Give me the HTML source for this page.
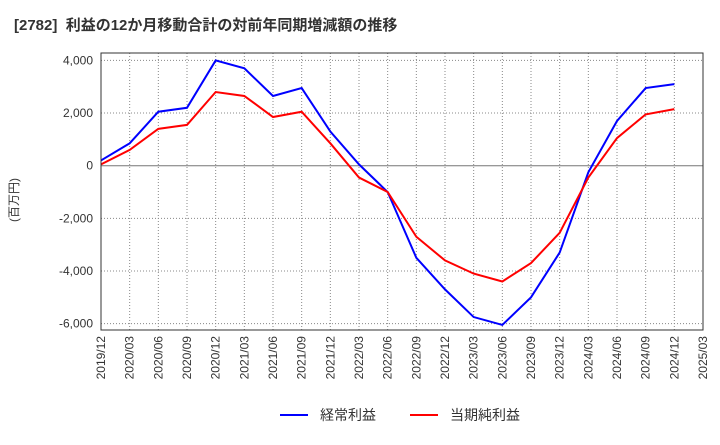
<!DOCTYPE html>
<html><head><meta charset="utf-8"><style>
body{margin:0;background:#fff;font-family:"Liberation Sans","Noto Sans CJK JP",sans-serif;}
svg text{font-family:"Liberation Sans","Noto Sans CJK JP",sans-serif;}
</style></head><body>
<svg id="c" width="720" height="440">
<text x="14" y="30" font-size="15" font-weight="bold" fill="#333" xml:space="preserve">[2782]  利益の12か月移動合計の対前年同期増減額の推移</text>
<text transform="translate(18,200) rotate(-90)" font-size="12" fill="#333" text-anchor="middle">(百万円)</text>
<g id="grid"></g><g id="series"></g><g id="axes"></g>
<g>
<line x1="280" y1="415" x2="308" y2="415" stroke="#0000ff" stroke-width="2"/>
<text x="320" y="420" font-size="14" fill="#333">経常利益</text>
<line x1="410" y1="415" x2="438" y2="415" stroke="#ff0000" stroke-width="2"/>
<text x="450" y="420" font-size="14" fill="#333">当期純利益</text>
</g>
</svg>
<script>
const categories=["2019/12","2020/03","2020/06","2020/09","2020/12","2021/03","2021/06","2021/09","2021/12","2022/03","2022/06","2022/09","2022/12","2023/03","2023/06","2023/09","2023/12","2024/03","2024/06","2024/09","2024/12","2025/03"];
const keijo=[200,850,2050,2200,4000,3700,2650,2950,1300,50,-1000,-3500,-4700,-5750,-6050,-5000,-3300,-250,1700,2950,3100];
const junri=[50,600,1400,1550,2800,2650,1850,2050,850,-450,-1000,-2700,-3600,-4100,-4400,-3700,-2550,-450,1050,1950,2150];
const yTicks=[4000,2000,0,-2000,-4000,-6000];
const yTickLabels=["4,000","2,000","0","-2,000","-4,000","-6,000"];
const L=101,R=703,T=53,B=330;
const y=v=>165.7-v*0.02632;
const x=i=>L+(R-L)*i/(categories.length-1);
const NS="http://www.w3.org/2000/svg";
function mk(p,t,a){const e=document.createElementNS(NS,t);for(const k in a)e.setAttribute(k,a[k]);document.getElementById(p).appendChild(e);return e;}
categories.forEach((c,i)=>{
 const g=mk("grid","line",{x1:x(i),x2:x(i),y1:T,y2:B,stroke:"#888","stroke-dasharray":"1,2"});
 
 
 const t=mk("axes","text",{transform:`translate(${x(i)+4},${B+6}) rotate(-90)`,"font-size":"12",fill:"#333","text-anchor":"end"});
 t.textContent=c;
 
 
});
yTicks.forEach((v,i)=>{
 const g=mk("grid","line",{x1:L,x2:R,y1:y(v),y2:y(v),stroke:v===0?"#777":"#888","stroke-dasharray":v===0?"":"1,2"});
 
 
 const t=mk("axes","text",{x:L-8,y:y(v)+4,"font-size":"12",fill:"#333","text-anchor":"end"});
 t.textContent=yTickLabels[i];
 
 
});
const fr=mk("axes","rect",{x:L,y:T,width:R-L,height:B-T,fill:"none",stroke:"#333"});


[[keijo,"#0000ff","keijo-line"],[junri,"#ff0000","junri-line"]].forEach(([d,col,n])=>{
 const p=mk("series","polyline",{points:d.map((v,i)=>x(i)+","+y(v)).join(" "),fill:"none",stroke:col,"stroke-width":"2"});
 
 
});
</script>
</body></html>
